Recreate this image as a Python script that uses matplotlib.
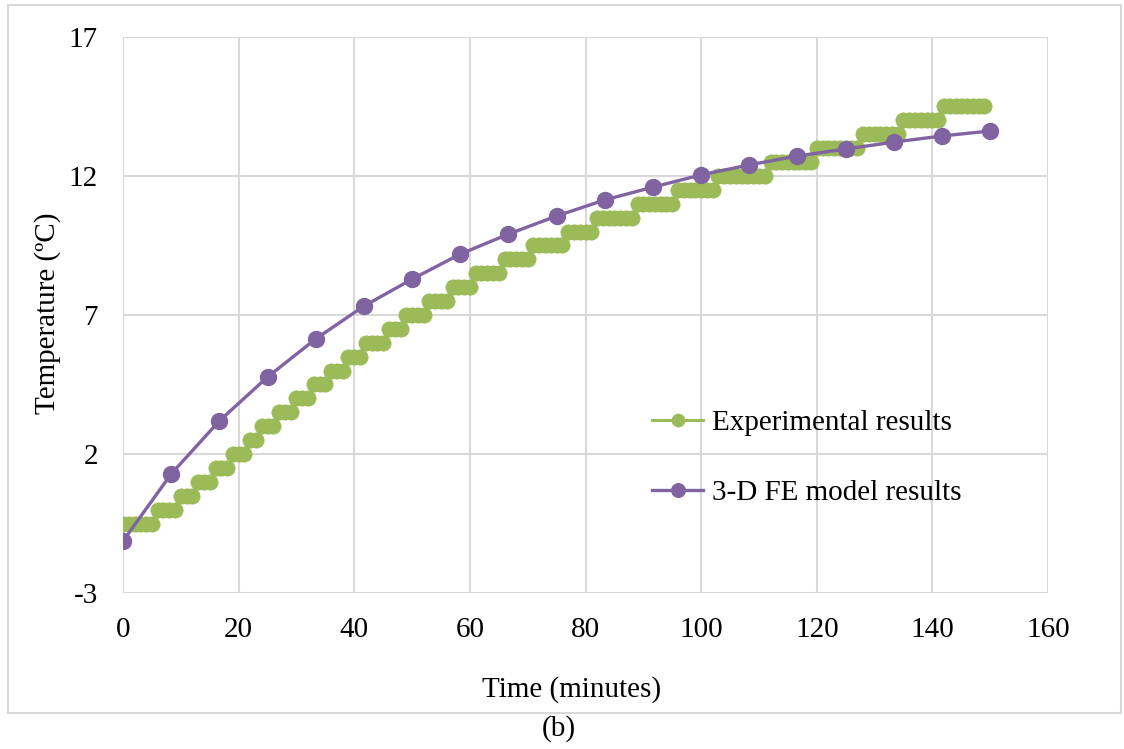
import numpy as np
import matplotlib
matplotlib.use("Agg")
import matplotlib.pyplot as plt
from matplotlib.patches import Rectangle

# ── data ────────────────────────────────────────────────────────────────
# experimental: stepped readings (0.5 C resolution), sampled every minute
exp_levels = [-0.5, 0.0, 0.5, 1.0, 1.5, 2.0, 2.5, 3.0, 3.5, 4.0, 4.5,
              5.0, 5.5, 6.0, 6.5, 7.0, 7.5, 8.0, 8.5, 9.0, 9.5,
              10.0, 10.5, 11.0, 11.5, 12.0, 12.5, 13.0, 13.5, 14.0, 14.5]
exp_start = [0, 6, 10, 13, 16, 19, 22, 24, 27, 30, 33,
             36, 39, 42, 46, 49, 53, 57, 61, 66, 71,
             77, 82, 89, 96, 103, 112, 120, 128, 135, 142]
exp_end = [5, 9, 12, 15, 18, 21, 23, 26, 29, 32, 35,
           38, 41, 45, 48, 52, 56, 60, 65, 70, 76,
           81, 88, 95, 102, 111, 119, 127, 134, 141, 149]

# 3-D FE model: 19 outputs over 150 minutes
fe_time = [0, 8.33, 16.67, 25, 33.33, 41.67, 50, 58.33, 66.67, 75,
           83.33, 91.67, 100, 108.33, 116.67, 125, 133.33, 141.67, 150]
fe_temp = [-1.13, 1.28, 3.19, 4.77, 6.14, 7.32, 8.29, 9.19, 9.91, 10.56,
           11.14, 11.60, 12.04, 12.40, 12.72, 12.97, 13.22, 13.44, 13.62]

x_ticks = [0, 20, 40, 60, 80, 100, 120, 140, 160]
y_ticks = [-3, 2, 7, 12, 17]

# expand step table into per-minute samples
exp_time = []
exp_temp = []
for lv, s, e in zip(exp_levels, exp_start, exp_end):
    for t in range(s, e + 1):
        exp_time.append(t)
        exp_temp.append(lv)

GREEN = "#9BBB59"
PURPLE = "#8064A2"
GRID = "#d9d9d9"

plt.rcParams["font.family"] = ["Liberation Serif", "DejaVu Serif"]
plt.rcParams["axes.unicode_minus"] = False

fig = plt.figure(figsize=(11.24, 7.49), dpi=100)
W, H = 1124, 749

# outer chart-area border
fig.patches.append(Rectangle((8 / W, 1 - 713 / H), (1121 - 8) / W, (713 - 5) / H,
                             transform=fig.transFigure, fill=False,
                             edgecolor=GRID, linewidth=1.5))

ax = fig.add_axes([123 / W, 1 - 593 / H, (1048 - 123) / W, (593 - 37) / H])

ax.plot(exp_time, exp_temp, color=GREEN, linewidth=2.2, marker="o",
        markersize=11, markerfacecolor=GREEN, markeredgecolor=GREEN,
        markeredgewidth=0.5, label="Experimental results", zorder=3)
ax.plot(fe_time, fe_temp, color=PURPLE, linewidth=2.4, marker="o",
        markersize=11.5, markerfacecolor=PURPLE, markeredgecolor=PURPLE,
        label="3-D FE model results", zorder=4)

ax.set_xlim(0, 160)
ax.set_ylim(-3, 17)
ax.set_xticks(x_ticks)
ax.set_yticks(y_ticks)
ax.grid(True, color=GRID, linewidth=1.5)
ax.set_axisbelow(True)
for sp in ax.spines.values():
    sp.set_visible(False)
ax.tick_params(length=0, labelsize=21, colors="black")
ax.tick_params(axis="x", pad=17)
ax.tick_params(axis="y", pad=18)

fig.text(572 / W, 1 - 690 / H, "Time (minutes)", ha="center", va="center",
         fontsize=21)
fig.text(48 / W, 1 - 313 / H, "Temperature (ºC)", ha="center", va="center",
         rotation=90, fontsize=21)
fig.text(559 / W, 1 - 729 / H, "(b)", ha="center", va="center", fontsize=21)

leg = ax.legend(loc="center left", bbox_to_anchor=(0.572, 0.243),
                frameon=False, fontsize=21, handlelength=1.75,
                handletextpad=0.3, labelspacing=1.5, borderpad=0,
                borderaxespad=0, markerscale=0.85)

fig.savefig("out.png", dpi=100)
